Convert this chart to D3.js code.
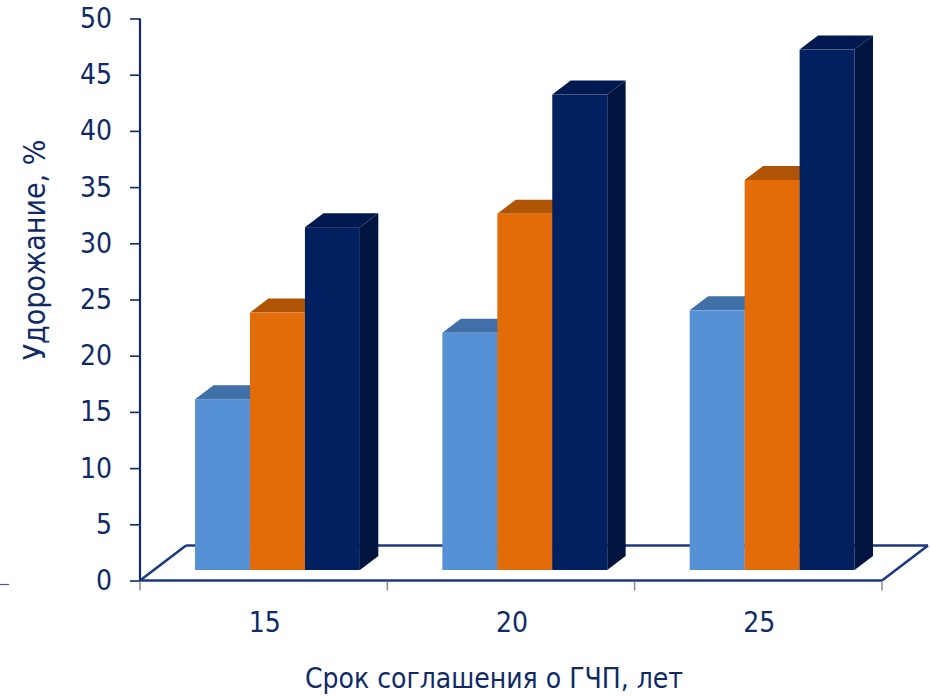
<!DOCTYPE html>
<html>
<head>
<meta charset="utf-8">
<script src="https://cdn.jsdelivr.net/npm/d3@7"></script>
<style>
  html, body { margin: 0; padding: 0; background: #ffffff; }
  svg { display: block; }
  text { font-family: "DejaVu Sans Condensed", "DejaVu Sans", sans-serif; fill: #0f2a66; }
</style>
</head>
<body>
<svg id="chart" width="930" height="696"></svg>
<script>
// Agreement term (years) on the category axis
const categories = ["15", "20", "25"];
// Three series of cost increase, %, one value per category
const seriesA = [15.2, 21.1, 23.1];
const seriesB = [22.9, 31.7, 34.7];
const seriesC = [30.5, 42.3, 46.3];
const yTicks = [0, 5, 10, 15, 20, 25, 30, 35, 40, 45, 50];
const yTitle = "Удорожание, %";
const xTitle = "Срок соглашения о ГЧП, лет";

const series = [
  { key: "a", values: seriesA, front: "#5691d6", top: "#4170a8", side: "#3a6396" },
  { key: "b", values: seriesB, front: "#e36c0a", top: "#b05406", side: "#9c4a05" },
  { key: "c", values: seriesC, front: "#00205f", top: "#001a4f", side: "#00143f" }
];

const svg = d3.select("#chart");
const navy = "#0f2a66";

// Floor geometry: front edge plus a receding depth vector
const x0 = 140, x1 = 882;
const depth = { dx: 46, dy: -35 };
const barDepthStart = 0.3, barDepthEnd = 0.7;

const y = d3.scaleLinear().domain([0, 50]).range([580.5, 18.5]);

const xBand = d3.scaleBand()
  .domain(categories)
  .range([x0, x1])
  .paddingInner(1 / 3)
  .paddingOuter(1 / 6);

const xSeries = d3.scaleBand()
  .domain(series.map(s => s.key))
  .range([0, xBand.bandwidth()])
  .padding(0);

// Floor outline
const fl = [
  [x0, y(0)], [x1, y(0)],
  [x1 + depth.dx, y(0) + depth.dy], [x0 + depth.dx, y(0) + depth.dy]
];
const floorLine = (a, b) => svg.append("line")
  .attr("x1", a[0]).attr("y1", a[1]).attr("x2", b[0]).attr("y2", b[1])
  .attr("stroke", "#1c3a80").attr("stroke-width", 2.6);

// back edge and left edge sit behind the bars
floorLine(fl[3], fl[2]);
floorLine(fl[0], fl[3]);

// Bars
const bx = barDepthStart * depth.dx, by = barDepthStart * depth.dy;
const tdx = (barDepthEnd - barDepthStart) * depth.dx;
const tdy = (barDepthEnd - barDepthStart) * depth.dy;
const w = xSeries.bandwidth();
const pts = p => p.map(q => q.join(",")).join(" ");

const gBars = svg.append("g");
categories.forEach((cat, i) => {
  series.forEach(s => {
    const left = xBand(cat) + xSeries(s.key) + bx;
    const base = y(0) + by;
    const topY = base - (y(0) - y(s.values[i]));
    const g = gBars.append("g");
    // side face
    g.append("polygon")
      .attr("points", pts([[left + w, topY], [left + w + tdx, topY + tdy],
                           [left + w + tdx, base + tdy], [left + w, base]]))
      .attr("fill", s.side);
    // top face
    g.append("polygon")
      .attr("points", pts([[left, topY], [left + w, topY],
                           [left + w + tdx, topY + tdy], [left + tdx, topY + tdy]]))
      .attr("fill", s.top);
    // front face
    g.append("rect")
      .attr("x", left).attr("y", topY)
      .attr("width", w).attr("height", base - topY)
      .attr("fill", s.front);
  });
});

// front and right floor edges
floorLine(fl[0], fl[1]);
floorLine(fl[1], fl[2]);

// Category ticks (grey) below the front edge
svg.append("g").selectAll("line")
  .data(d3.range(categories.length + 1))
  .join("line")
  .attr("x1", d => x0 + d * xBand.step()).attr("x2", d => x0 + d * xBand.step())
  .attr("y1", y(0) + 1).attr("y2", y(0) + 10)
  .attr("stroke", "#8c8c8c").attr("stroke-width", 1.5);

// Category labels
svg.append("g").selectAll("text")
  .data(categories)
  .join("text")
  .attr("x", d => xBand(d) + xBand.bandwidth() / 2 + 1)
  .attr("y", 632)
  .attr("text-anchor", "middle")
  .attr("font-size", 28)
  .text(d => d);

// Value axis
const yAxis = d3.axisLeft(y).tickValues(yTicks).tickSize(10).tickPadding(18);
const gy = svg.append("g").attr("transform", `translate(${x0},0)`).call(yAxis);
gy.select(".domain").attr("stroke", navy).attr("stroke-width", 2.2)
  .attr("d", `M0,${y(50)}V${y(0)}`);
gy.selectAll(".tick line").attr("stroke", navy).attr("stroke-width", 1.6);
gy.selectAll(".tick text")
  .attr("font-size", 28)
  .attr("font-family", "'DejaVu Sans Condensed', 'DejaVu Sans', sans-serif")
  .attr("fill", navy);

// Axis titles
svg.append("text")
  .attr("transform", "translate(45,250) rotate(-90)")
  .attr("text-anchor", "middle")
  .attr("font-size", 30)
  .text(yTitle);

svg.append("text")
  .attr("x", 494)
  .attr("y", 688)
  .attr("text-anchor", "middle")
  .attr("font-size", 28)
  .text(xTitle);

// short marker at the lower left edge
svg.append("line")
  .attr("x1", 0).attr("x2", 9).attr("y1", 584.5).attr("y2", 584.5)
  .attr("stroke", "#4a5a80").attr("stroke-width", 1.2);
</script>
</body>
</html>
